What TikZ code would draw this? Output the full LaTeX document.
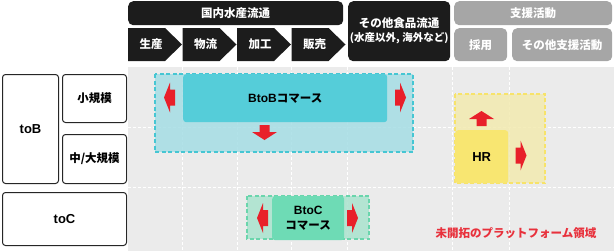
\documentclass[tikz,border=0pt]{standalone}
\usepackage{fontspec}
\setmainfont{Noto Sans CJK JP}
\newfontfamily\latin{Liberation Sans}
\usetikzlibrary{calc}

\definecolor{hdrblack}{HTML}{1C1C1C}
\definecolor{supgray}{HTML}{A6A6A6}
\definecolor{gridbg}{HTML}{EBEBEB}
\definecolor{tealsolid}{HTML}{55CDD9}
\definecolor{tealpale}{HTML}{A5DDE4}
\definecolor{tealedge}{HTML}{45C6D3}
\definecolor{yelsolid}{HTML}{F8E671}
\definecolor{yelpale}{HTML}{F3EAB0}
\definecolor{yeledge}{HTML}{F7E36A}
\definecolor{grnsolid}{HTML}{6EDBB5}
\definecolor{grnpale}{HTML}{AAE3CE}
\definecolor{grnedge}{HTML}{6AD5AC}
\definecolor{arrred}{HTML}{E8202A}
\definecolor{lblred}{HTML}{E8313C}

\begin{document}
\begin{tikzpicture}[
        x=1bp, y=-1bp,
        txt/.style={font=\fontsize{11.5bp}{15bp}\selectfont\bfseries, align=center},
        big/.style={font=\fontsize{13bp}{15bp}\selectfont\bfseries\latin},
        hdr/.style={txt, fill=hdrblack, text=white, rounded corners=5bp, anchor=north west, inner sep=0pt},
        sup/.style={hdr, fill=supgray},
        rowbox/.style={txt, draw=black!85, line width=1bp, fill=white, rounded corners=3bp, anchor=north west, inner sep=0pt},
        gridline/.style={draw=white, line width=.9bp, dash pattern=on 3bp off 2bp},
        zone/.style={line width=1.2bp, dash pattern=on 4bp off 2.5bp},
        core/.style={txt, rounded corners=3bp, anchor=north west, inner sep=0pt},
        sidearr/.pic={\fill[arrred] (0,-8) -- (5,-8) -- (5,-15) -- (11,0) -- (5,15) -- (5,8) -- (0,8) -- cycle;},
        vertarr/.pic={\fill[arrred] (0,-5) -- (7,-5) -- (7,-12.5) -- (15,0) -- (7,12.5) -- (7,5) -- (0,5) -- cycle;},
    ]
    \useasboundingbox (0,0) rectangle (614,251);

    %% value chain header
    \node[hdr, minimum width=215bp, minimum height=24bp] (dom) at (128,1) {国内水産流通};
    \foreach \s/\lbl/\nm in {128/生産/prod, 182.5/物流/logi, 237/加工/proc, 291.5/販売/sale}{
        \fill[hdrblack] (\s,28) -- ++(37,0) -- ++(17,16.5) -- ++(-17,16.5) -- ++(-37,0) -- cycle;
        \node[txt, text=white] (\nm) at (\s+23, 44.5) {\lbl};
    }
    \node[hdr, minimum width=102bp, minimum height=60bp] (food) at (348,1)
        {その他食品流通\\[-1bp]{\fontsize{10.5bp}{13bp}\selectfont (水産以外, 海外など)}};

    %% support activities
    \node[sup, minimum width=158bp, minimum height=24bp] (supp) at (454,1) {支援活動};
    \node[sup, minimum width=53bp, minimum height=33bp] (hire) at (454,28) {採用};
    \node[sup, minimum width=100bp, minimum height=33bp] (othr) at (512,28) {その他支援活動};

    %% customer rows
    \node[rowbox, big, minimum width=56bp, minimum height=109bp] (tob) at (2,74) {toB};
    \node[rowbox, minimum width=64bp, minimum height=48bp] (small) at (62,74) {小規模};
    \node[rowbox, minimum width=64bp, minimum height=49bp] (large) at (62,134) {中/大規模};
    \node[rowbox, big, minimum width=124bp, minimum height=53bp] (toc) at (2,192) {toC};

    %% grid
    \fill[gridbg] (128,67) rectangle (614,251);
    \foreach \x in {182.5, 237, 291.5, 347.5, 452.5, 509.5}{
        \draw[gridline] (\x,67) -- (\x,251);
    }
    \foreach \y in {127, 187}{
        \draw[gridline] (128,\y) -- (614,\y);
    }

    %% BtoB
    \filldraw[zone, draw=tealedge, fill=tealpale, fill opacity=.85] (155,74) rectangle (413,152);
    \node[core, fill=tealsolid, minimum width=204bp, minimum height=48bp] (btob) at (183,74)
        {{\fontsize{12bp}{15bp}\selectfont\latin BtoB}コマース};
    \pic[rotate=180] at (175,97.5) {sidearr};
    \pic at (395,97.5) {sidearr};
    \pic[rotate=-90] at (264.5,125) {vertarr};

    %% HR
    \filldraw[zone, draw=yeledge, fill=yelpale, fill opacity=.85] (455,94) rectangle (545,183);
    \node[core, big, fill=yelsolid, minimum width=53bp, minimum height=53bp] (hr) at (455,130) {HR};
    \pic[rotate=90] at (481.5,126) {vertarr};
    \pic at (515.5,155.5) {sidearr};

    %% BtoC
    \filldraw[zone, draw=grnedge, fill=grnpale, fill opacity=.85] (247,196) rectangle (369,239);
    \node[core, fill=grnsolid, minimum width=72bp, minimum height=44bp] (btoc) at (272,196)
        {{\fontsize{12bp}{15bp}\selectfont\latin BtoC}\\コマース};
    \pic[rotate=180] at (268,218) {sidearr};
    \pic at (347,218) {sidearr};

    \node[txt, text=lblred] (open) at (516,233) {未開拓のプラットフォーム領域};
\end{tikzpicture}
\end{document}
